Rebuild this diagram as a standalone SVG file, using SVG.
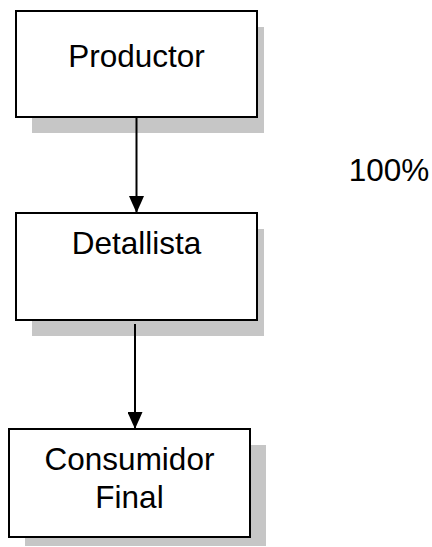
<svg xmlns="http://www.w3.org/2000/svg" width="432" height="547" viewBox="0 0 432 547">
<style>
.box{fill:#fff;stroke:#000;stroke-width:2}
.sh{fill:#c6c6c6}
.t{font-family:"Liberation Sans",Arial,sans-serif;font-size:31.5px;fill:#000;text-anchor:middle}
.c{stroke:#000;stroke-width:2;fill:none}
</style>
<defs>
<marker id="ah" markerWidth="17" markerHeight="15" refX="17" refY="7.5" orient="auto" markerUnits="userSpaceOnUse" viewBox="0 0 17 15">
<path d="M0,0 L17,7.5 L0,15 Z" fill="#000"/>
</marker>
</defs>
<g id="productor">
<rect class="sh" x="32" y="27" width="232" height="106"/>
<rect class="box" x="16" y="11" width="241" height="106"/>
<text class="t" x="136.5" y="67">Productor</text>
</g>
<g id="detallista">
<rect class="sh" x="32" y="229" width="232" height="107"/>
<rect class="box" x="16" y="213" width="241" height="107"/>
<text class="t" x="136.5" y="254">Detallista</text>
</g>
<g id="consumidor">
<rect class="sh" x="25" y="445" width="241" height="101"/>
<rect class="box" x="9" y="429" width="241" height="108"/>
<text class="t" x="129.5" y="470">Consumidor</text>
<text class="t" x="129.5" y="508">Final</text>
</g>
<g id="label">
<text class="t" x="389" y="181">100%</text>
</g>
<g id="connectors">
<line class="c" x1="136.5" y1="117" x2="136.5" y2="213" marker-end="url(#ah)"/>
<line class="c" x1="135" y1="324" x2="135" y2="429" marker-end="url(#ah)"/>
</g>
</svg>
